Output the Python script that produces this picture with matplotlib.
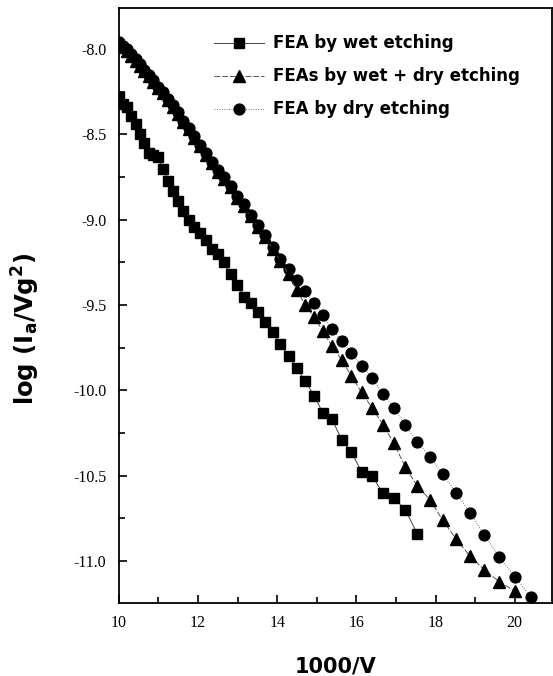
import matplotlib
matplotlib.use("Agg")
import matplotlib.pyplot as plt
from matplotlib.ticker import MultipleLocator, FuncFormatter

# 1000/V positions (V = 100 ... 49 volts)
x_all = [10.00, 10.10, 10.20, 10.31, 10.42, 10.53, 10.64, 10.75, 10.87, 10.99,
         11.11, 11.24, 11.36, 11.49, 11.63, 11.76, 11.90, 12.05, 12.20, 12.35,
         12.50, 12.66, 12.82, 12.99, 13.16, 13.33, 13.51, 13.70, 13.89, 14.08,
         14.29, 14.49, 14.71, 14.93, 15.15, 15.38, 15.63, 15.87, 16.13, 16.39,
         16.67, 16.95, 17.24, 17.54, 17.86, 18.18, 18.52, 18.87, 19.23, 19.61,
         20.00, 20.41]

# FEA by wet etching (squares)
y_wet = [-8.28, -8.32, -8.34, -8.39, -8.44, -8.50, -8.55, -8.61, -8.62, -8.63,
         -8.70, -8.77, -8.83, -8.89, -8.95, -9.00, -9.04, -9.08, -9.12, -9.17,
         -9.20, -9.25, -9.32, -9.38, -9.45, -9.49, -9.54, -9.60, -9.655, -9.73,
         -9.80, -9.87, -9.945, -10.03, -10.13, -10.165, -10.29, -10.36, -10.475, -10.50,
         -10.60, -10.63, -10.70, -10.84]

# FEAs by wet + dry etching (triangles)
y_wetdry = [-7.97, -7.99, -8.01, -8.04, -8.07, -8.10, -8.13, -8.16, -8.19, -8.23,
            -8.26, -8.30, -8.34, -8.38, -8.43, -8.47, -8.52, -8.57, -8.62, -8.67,
            -8.72, -8.76, -8.81, -8.87, -8.92, -8.98, -9.04, -9.10, -9.17, -9.24,
            -9.32, -9.41, -9.50, -9.57, -9.65, -9.74, -9.82, -9.915, -10.01, -10.10,
            -10.20, -10.31, -10.45, -10.56, -10.64, -10.76, -10.87, -10.97, -11.05, -11.12,
            -11.175]

# FEA by dry etching (circles)
y_dry = [-7.96, -7.98, -8.00, -8.03, -8.06, -8.09, -8.12, -8.15, -8.18, -8.22,
         -8.25, -8.29, -8.33, -8.37, -8.42, -8.46, -8.51, -8.56, -8.61, -8.66,
         -8.71, -8.75, -8.80, -8.86, -8.91, -8.97, -9.03, -9.09, -9.16, -9.23,
         -9.29, -9.355, -9.42, -9.49, -9.56, -9.64, -9.71, -9.78, -9.855, -9.925,
         -10.02, -10.10, -10.205, -10.30, -10.39, -10.49, -10.60, -10.715, -10.845, -10.975,
         -11.09, -11.21]

labels = ["FEA by wet etching", "FEAs by wet + dry etching", "FEA by dry etching"]

fig = plt.figure(figsize=(5.53, 6.76), dpi=100)
ax = fig.add_axes([0.215, 0.108, 0.783, 0.88])

ax.plot(x_all[:len(y_wet)], y_wet, color="#444444", lw=0.7, ls="-",
        marker="s", ms=7, mfc="black", mec="black", label=labels[0], zorder=3)
ax.plot(x_all[:len(y_wetdry)], y_wetdry, color="#555555", lw=0.7, ls=(0, (6, 2)),
        marker="^", ms=8.5, mfc="black", mec="black", label=labels[1], zorder=4)
ax.plot(x_all[:len(y_dry)], y_dry, color="#777777", lw=0.7, ls=(0, (1, 1.5)),
        marker="o", ms=7.8, mfc="black", mec="black", label=labels[2], zorder=2)

ax.set_xlim(10, 20.94)
ax.set_ylim(-11.245, -7.76)
ax.xaxis.set_major_locator(MultipleLocator(2))
ax.xaxis.set_minor_locator(MultipleLocator(1))
ax.yaxis.set_major_locator(MultipleLocator(0.5))
ax.yaxis.set_minor_locator(MultipleLocator(0.25))
ax.yaxis.set_major_formatter(FuncFormatter(lambda v, p: "%.1f" % v))
ax.tick_params(which="both", direction="in", width=1.2)
ax.tick_params(which="major", length=6)
ax.tick_params(which="minor", length=4)
ax.tick_params(axis="x", pad=9)
ax.tick_params(axis="y", pad=9)
for lab in ax.get_xticklabels() + ax.get_yticklabels():
    lab.set_family("Liberation Serif")
    lab.set_fontsize(11.5)
for s in ax.spines.values():
    s.set_linewidth(1.3)

ax.set_xlabel("1000/V", fontsize=15, fontweight="bold", labelpad=18)
ax.set_ylabel(r"log (I$_\mathbf{a}$/Vg$^\mathbf{2}$)", fontsize=17.5,
              fontweight="bold")
ax.yaxis.set_label_coords(-0.178, 0.46)

ax.legend(loc="upper left", bbox_to_anchor=(0.205, 0.967), frameon=False,
          handlelength=3.0, handletextpad=0.5, labelspacing=0.9,
          prop={"weight": "bold", "size": 12}, borderaxespad=0)

fig.savefig("out.png", dpi=100)
